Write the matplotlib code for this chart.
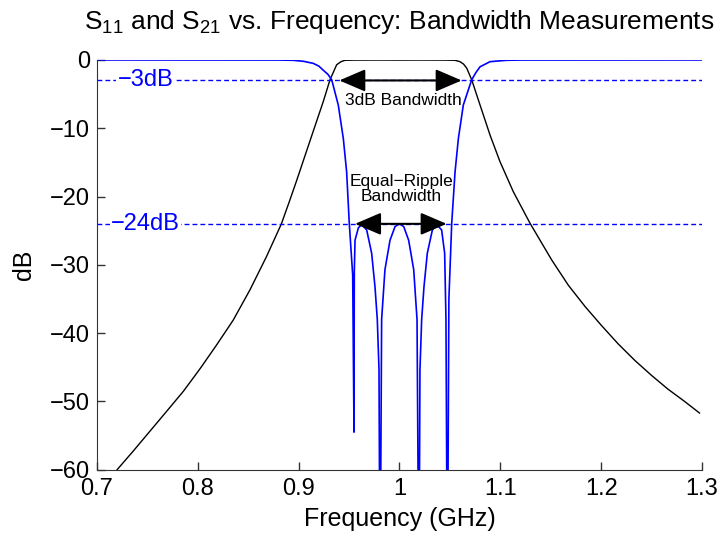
import matplotlib
matplotlib.use("Agg")
import matplotlib.pyplot as plt

plt.rcParams['font.family'] = ['Liberation Sans', 'DejaVu Sans']
plt.rcParams['mathtext.fontset'] = 'custom'
plt.rcParams['mathtext.rm'] = 'Liberation Sans'
plt.rcParams['mathtext.it'] = 'Liberation Sans'

# S21 (black)
s21_freq = [0.7200, 0.7364, 0.7529, 0.7694, 0.7858, 0.8023, 0.8188, 0.8351,
            0.8516, 0.8681, 0.8829, 0.8911, 0.8977, 0.9141, 0.9244, 0.9311,
            0.9377, 0.9420, 0.9460, 0.955, 0.98, 1.00, 1.02, 1.045, 1.055,
            1.060, 1.0635, 1.0667, 1.0716, 1.0799, 1.0898, 1.0997, 1.1129,
            1.1294, 1.1510, 1.1675, 1.184, 1.2004, 1.217, 1.2334, 1.25,
            1.2662, 1.2827, 1.2975]
s21_db = [-60.0, -57.2, -54.3, -51.4, -48.5, -45.2, -41.7, -38.1,
          -33.7, -28.8, -24.0, -20.6, -17.8, -10.6, -6.1, -2.9,
          -0.7, -0.25, -0.05, -0.02, -0.01, -0.02, -0.01, -0.02, -0.05,
          -0.25, -0.6, -1.2, -2.9, -6.6, -11.0, -14.9, -19.3,
          -23.9, -29.3, -33.0, -36.1, -38.9, -41.6, -44.0, -46.2,
          -48.2, -50.0, -51.7]

# S11 (blue)
s11_freq = [0.70, 0.88, 0.8947, 0.905, 0.9145, 0.9200, 0.9244, 0.9290, 0.9328,
            0.9393, 0.9443, 0.9476, 0.9502, 0.9536, 0.9549, 0.9550, 0.9552,
            0.9559, 0.9592, 0.9625, 0.9675, 0.9724, 0.9757, 0.9780, 0.9797,
            0.9807, 0.9823, 0.9856, 0.9906, 0.9956, 1.0000, 1.0042, 1.0091,
            1.0141, 1.0174, 1.0193, 1.0203, 1.0220, 1.0243, 1.0276, 1.0326,
            1.0369, 1.0418, 1.0448, 1.0461, 1.0475, 1.0490, 1.0518, 1.0551,
            1.0584, 1.0633, 1.0716, 1.0760, 1.0799, 1.0898, 1.106, 1.12, 1.30]
s11_db = [0.0, -0.01, -0.05, -0.2, -0.5, -0.9, -1.5, -2.1, -2.9,
          -6.6, -11.5, -16.4, -23.9, -31.5, -54.5, -45.0, -31.0,
          -26.4, -24.6, -24.1, -24.9, -28.3, -33.2, -38.0, -45.4,
          -80.0, -38.0, -30.7, -26.4, -24.4, -24.0, -24.4, -26.4,
          -30.7, -38.0, -80.0, -45.4, -38.0, -33.2, -28.3, -24.9,
          -24.1, -24.9, -28.3, -38.0, -80.0, -35.0, -23.9, -16.4,
          -11.5, -6.6, -2.9, -1.8, -1.0, -0.25, -0.05, -0.01, 0.0]

levels_db = [-3, -24]
level_labels = ['\u22123dB', '\u221224dB']
bw_3db = (0.9403, 1.0617)
bw_ripple = (0.9559, 1.0468)

fig = plt.figure(figsize=(7.22, 5.33), dpi=100)
ax = fig.add_axes([0.1343, 0.1188, 0.838, 0.7687])

ax.plot(s21_freq, s21_db, color='black', lw=1.0)
ax.plot(s11_freq, s11_db, color=(0, 0, 1), lw=1.2)

for lev, lab in zip(levels_db, level_labels):
    ax.axhline(lev, color=(0, 0, 1), lw=1.0, dashes=(3.5, 2.2))
    ax.text(0.748, lev, lab, color=(0, 0, 1), fontsize=17, ha='center', va='center',
            bbox=dict(facecolor='white', edgecolor='none', pad=1))

arrow_kw = dict(arrowstyle='<|-|>,head_length=0.7,head_width=0.3', color='black',
                lw=1.5, mutation_scale=23, shrinkA=0, shrinkB=0)
ax.annotate('', xy=(bw_3db[0], levels_db[0]), xytext=(bw_3db[1], levels_db[0]),
            arrowprops=arrow_kw)
ax.annotate('', xy=(bw_ripple[0], levels_db[1]), xytext=(bw_ripple[1], levels_db[1]),
            arrowprops=arrow_kw)
ax.text(1.0035, -5.9, '3dB Bandwidth', fontsize=12.5, ha='center', va='center')
ax.text(1.002, -18.9, 'Equal\u2212Ripple\nBandwidth', fontsize=12.5, ha='center',
        va='center', linespacing=1.05)

ax.set_xlim(0.7, 1.3)
ax.set_ylim(-60, 0)
ax.set_xticks([0.7, 0.8, 0.9, 1.0, 1.1, 1.2, 1.3])
ax.set_xticklabels(['0.7', '0.8', '0.9', '1', '1.1', '1.2', '1.3'])
ax.set_yticks(range(-60, 1, 10))
ax.tick_params(direction='in', length=6, width=1, labelsize=17, color='#333333')
ax.tick_params(axis='x', pad=6)
ax.tick_params(axis='y', pad=5)
ax.spines['top'].set_visible(False)
ax.spines['right'].set_visible(False)
for s in ('left', 'bottom'):
    ax.spines[s].set_color('#333333')

ax.set_xlabel('Frequency (GHz)', fontsize=18, labelpad=5)
ax.set_ylabel('dB', fontsize=18, labelpad=10)
ax.set_title('S$_{11}$ and S$_{21}$ vs. Frequency: Bandwidth Measurements',
             fontsize=19, pad=22)

fig.savefig('out.png', dpi=100)
